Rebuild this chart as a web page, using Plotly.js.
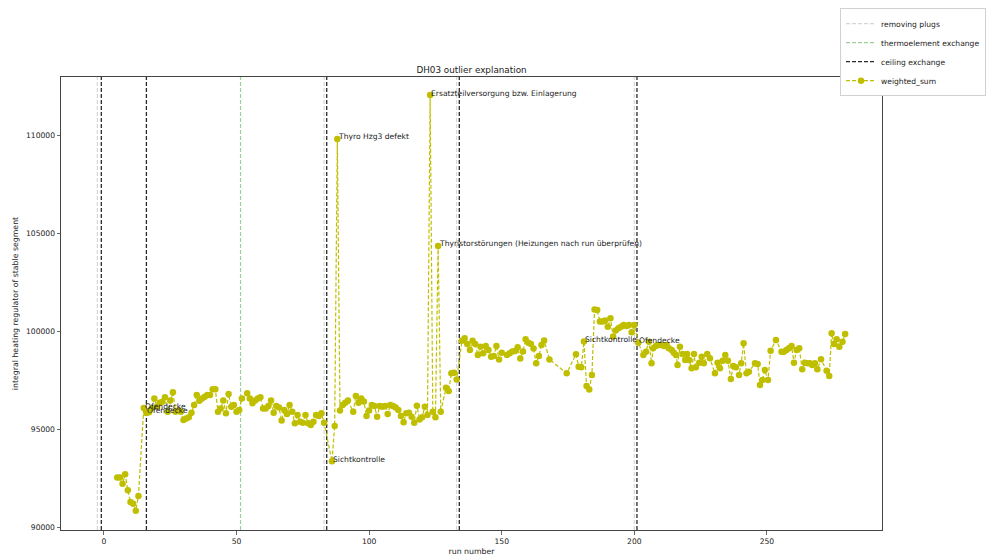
<!DOCTYPE html>
<html><head><meta charset="utf-8">
<script src="https://cdn.plot.ly/plotly-3.0.1.min.js"></script>
<style>html,body{margin:0;padding:0;background:#fff}#chart{width:987px;height:556px}</style>
</head><body><div id="chart"></div>
<script>
const runs = [5,6,7,8,9,10,11,12,13,
15,16,17,18,19,20,21,22,23,24,25,26,27,28,29,30,31,32,33,34,35,36,37,38,39,40,41,42,43,44,45,46,47,48,49,50,51,52,54,55,56,57,58,59,60,61,62,63,64,65,66,67,68,69,70,71,72,73,74,75,76,77,78,79,80,81,82,83,
86,87,88,89,90,91,92,94,95,96,97,98,99,100,101,102,103,104,105,106,107,108,109,110,111,112,113,114,115,116,117,118,119,120,121,122,123,124,125,126,127,129,130,131,132,133,
135,136,137,138,139,140,141,142,143,144,145,146,147,148,149,150,152,153,154,155,156,157,158,159,160,161,162,163,164,165,166,168,174.5,178,179,180,181,182,183,184,185,186,187,188,189,190,191,192,193,194,195,196,197,198,199,200,201.5,
203.4,204.4,205.5,206.5,207.1,208.1,209,210,211.2,212.2,213,214.1,214.9,215.7,216.3,217.2,218.2,219.2,219.9,220.7,221.6,222.5,223.2,224.5,225.4,226.2,227.5,228.5,230.4,231.4,232.3,233.3,234.3,235.3,236.4,237.3,238.3,239.5,240.3,241.2,242.3,243.2,245.5,246.5,247.4,248.3,249.2,250.4,251.4,253.4,255.5,256.4,257.4,258.3,259.3,260.2,261.2,262.2,263.3,264.3,265.2,266.2,267.1,268.1,269,270.4,272.5,273.5,274.4,275.3,276.3,277.3,278.5,279.5];
const weightedSum = [92520,92520,92210,92690,91870,91280,91190,90830,91580,
96070,95820,95850,96050,96560,96150,96340,96390,96620,95880,96450,96870,95880,95950,95880,95460,95540,95600,95830,96220,96740,96440,96550,96650,96740,96740,97030,97030,95880,96050,96450,95800,96790,96140,96220,95880,95970,96560,96820,96560,96310,96450,96560,96620,96050,96050,96170,96450,95830,96170,96100,95430,95970,95760,96220,95880,95290,95710,95370,95320,95710,95290,95200,95370,95710,95660,95800,95320,
93350,95150,109800,95940,96220,96340,96450,95880,96680,96340,96560,96400,95660,95940,96220,96170,95630,96170,96140,96170,95770,96220,96170,96100,95970,95660,95340,95800,95830,95630,95320,96190,95490,95600,96140,95710,112040,95880,95600,104340,95880,97100,96940,97840,97870,97530,
99500,99630,99340,99030,99500,99340,98780,99200,98860,99230,99030,98690,98720,99230,98550,98890,98780,98860,98950,98980,99170,98600,98950,99580,99400,99340,99110,98350,98720,99290,99510,98550,97840,98820,98180,98150,99460,97190,97020,97750,101100,101070,100480,100480,100530,100220,100650,99720,100020,100140,100220,100310,100260,100310,99930,100300,99405,
98776,98946,99456,98350,99116,99235,99286,99286,99235,99286,99116,99031,98895,98776,98265,99201,98826,98521,98826,98521,98095,98826,98146,98384,98690,98350,98826,98606,97840,98384,98095,98487,98776,98487,97551,98214,98146,97755,98350,99371,97840,97925,98350,98316,97245,97500,98010,97500,98997,99541,98946,98946,99031,99116,99235,98384,99031,99116,98044,98384,98350,98350,98265,98350,98044,98555,97976,97704,99881,99337,99575,99201,99456,99847];

const plugRuns = [-2.5, 83, 133, 200];
const thermoRuns = [51.5];
const ceilingRuns = [-1, 16, 84, 134, 201];

const noteRuns = [15, 16, 86, 88, 123, 126, 181, 201.5];
const noteLabels = ['Ofendecke','Ofendecke','Sichtkontrolle','Thyro Hzg3 defekt',
  'Ersatzteilversorgung bzw. Einlagerung','Thyristorstörungen (Heizungen nach run überprüfen)',
  'Sichtkontrolle','Ofendecke'];

const X_RANGE = [-16.2, 293.4];
const Y_RANGE = [89847, 112959];
const FONT = 'DejaVu Sans, sans-serif';

function vlines(xs) {
  const X = [], Y = [];
  xs.forEach(v => { X.push(v, v, null); Y.push(Y_RANGE[0], Y_RANGE[1], null); });
  return {x: X, y: Y};
}
const pl = vlines(plugRuns), th = vlines(thermoRuns), ce = vlines(ceilingRuns);

const traces = [
  {x: pl.x, y: pl.y, mode: 'lines', name: 'removing plugs', hoverinfo: 'skip',
   line: {color: '#d6d6d6', width: 1.2, dash: '4px,2px'}},
  {x: th.x, y: th.y, mode: 'lines', name: 'thermoelement exchange', hoverinfo: 'skip',
   line: {color: '#9ccf9c', width: 1.2, dash: '4px,2px'}},
  {x: ce.x, y: ce.y, mode: 'lines', name: 'ceiling exchange', hoverinfo: 'skip',
   line: {color: '#2a2a2a', width: 1.3, dash: '4px,2px'}},
  {x: runs, y: weightedSum, mode: 'lines+markers', name: 'weighted_sum',
   line: {color: '#bfbf00', width: 1.2, dash: '4px,2px'},
   marker: {color: '#bfbf00', size: 6.5}}
];

const annotations = noteRuns.map((r, i) => ({
  x: r, y: weightedSum[runs.indexOf(r)], xref: 'x', yref: 'y',
  text: noteLabels[i], showarrow: false, xanchor: 'left', yanchor: 'middle',
  xshift: -1, yshift: 2, font: {family: FONT, size: 7.6, color: '#222'}
}));

const axisCommon = {
  showgrid: false, zeroline: false, showline: true, mirror: true,
  linecolor: '#444', linewidth: 1, ticks: 'outside', ticklen: 3.5,
  tickcolor: '#444', tickwidth: 0.8, tickfont: {family: FONT, size: 7.6, color: '#222'}
};

const layout = {
  width: 987, height: 556,
  margin: {l: 61, r: 105, t: 77, b: 26, autoexpand: false},
  paper_bgcolor: '#fff', plot_bgcolor: '#fff',
  font: {family: FONT, color: '#222'},
  title: {text: 'DH03 outlier explanation', font: {family: FONT, size: 8.8, color: '#222'},
          xref: 'paper', x: 0.5, xanchor: 'center', yref: 'paper', y: 1, yanchor: 'bottom',
          pad: {b: 4}},
  xaxis: Object.assign({}, axisCommon, {range: X_RANGE, tickvals: [0,50,100,150,200,250],
          title: {text: 'run number', font: {family: FONT, size: 7.8, color: '#222'}, standoff: 3}}),
  yaxis: Object.assign({}, axisCommon, {range: Y_RANGE, tickvals: [90000,95000,100000,105000,110000],
          tickformat: 'd',
          title: {text: 'integral heating regulator of stable segment', font: {family: FONT, size: 7.8, color: '#222'}, standoff: 6}}),
  showlegend: true,
  legend: {x: 1.1267, xanchor: 'right', y: 1.152, yanchor: 'top', xref: 'paper', yref: 'paper',
           bgcolor: '#fff', bordercolor: '#d0d0d0', borderwidth: 1, itemwidth: 30,
           font: {family: FONT, size: 7.6, color: '#222'}, traceorder: 'normal'},
  annotations: annotations
};

Plotly.newPlot('chart', traces, layout, {displayModeBar: false, staticPlot: true});
</script></body></html>
